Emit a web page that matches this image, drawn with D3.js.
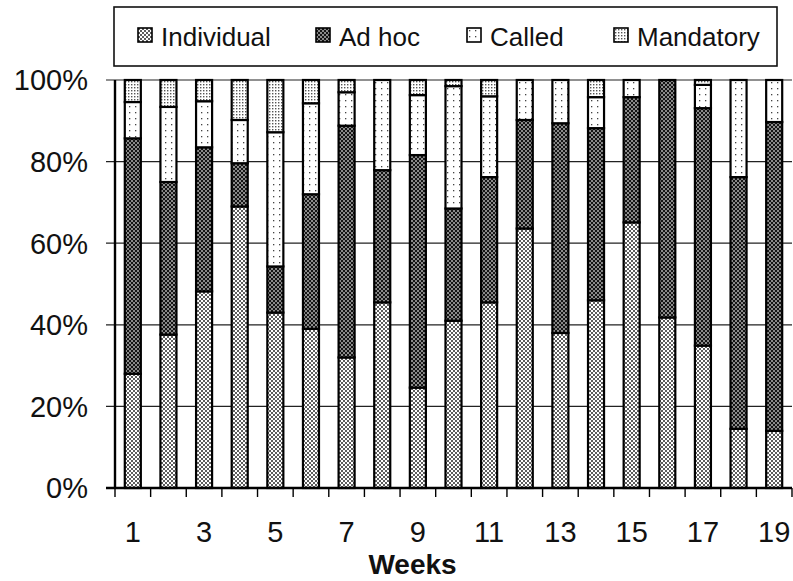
<!DOCTYPE html>
<html>
<head>
<meta charset="utf-8">
<script src="https://cdn.jsdelivr.net/npm/d3@7"></script>
<style>
  html, body { margin: 0; padding: 0; background: #fff; }
  text { font-family: "Liberation Sans", Arial, sans-serif; fill: #111; }
</style>
</head>
<body>
<svg id="chart" width="793" height="581"></svg>
<script>
(function() {
  // data (percent of the week's total)
  var weeks = d3.range(1, 20);
  var seriesNames = ["Individual", "Ad hoc", "Called", "Mandatory"];
  var individual = [28, 37.6, 48.2, 69, 43, 39, 32, 45.5, 24.6, 41, 45.5, 63.6, 38, 46, 65.1, 41.8, 34.9, 14.5, 14];
  var adHoc      = [57.7, 37.4, 35.3, 10.6, 11.3, 33, 56.8, 32.4, 57, 27.5, 30.7, 26.6, 51.4, 42.2, 30.7, 58.2, 58.2, 61.7, 75.7];
  var called     = [8.9, 18.4, 11.3, 10.6, 32.9, 22.3, 8.2, 22.1, 14.7, 30, 19.8, 9.8, 10.6, 7.6, 4.2, 0, 5.7, 23.8, 10.3];
  var mandatory  = [5.4, 6.6, 5.2, 9.8, 12.8, 5.7, 3, 0, 3.7, 1.5, 4, 0, 0, 4.2, 0, 0, 1.2, 0, 0];
  var yTicks = [0, 20, 40, 60, 80, 100];

  var table = weeks.map(function(w, i) {
    return { week: w, "Individual": individual[i], "Ad hoc": adHoc[i], "Called": called[i], "Mandatory": mandatory[i] };
  });

  var svg = d3.select("#chart"),
      margin = { left: 115, right: 1, top: 80, bottom: 93 },
      width = +svg.attr("width") - margin.left - margin.right,
      height = +svg.attr("height") - margin.top - margin.bottom;

  // fill patterns standing in for the printed screens
  var defs = svg.append("defs");
  function pattern(id, size, bg, draw) {
    var p = defs.append("pattern").attr("id", id)
      .attr("patternUnits", "userSpaceOnUse")
      .attr("width", size).attr("height", size);
    p.append("rect").attr("width", size).attr("height", size).attr("fill", bg);
    draw(p);
  }
  pattern("p-indiv", 4, "#fff", function(p) {
    p.append("rect").attr("x", 0).attr("y", 0).attr("width", 2).attr("height", 2).attr("fill", "#5e5e5e");
    p.append("rect").attr("x", 2).attr("y", 2).attr("width", 2).attr("height", 2).attr("fill", "#5e5e5e");
  });
  pattern("p-adhoc", 4, "#151515", function(p) {
    p.append("rect").attr("x", 0).attr("y", 0).attr("width", 2).attr("height", 2).attr("fill", "#8a8a8a");
    p.append("rect").attr("x", 2).attr("y", 2).attr("width", 2).attr("height", 2).attr("fill", "#8a8a8a");
  });
  pattern("p-called", 6, "#fff", function(p) {
    p.append("rect").attr("x", 2).attr("y", 2).attr("width", 1.3).attr("height", 1.3).attr("fill", "#444");
  });
  pattern("p-mand", 3, "#fff", function(p) {
    p.append("rect").attr("x", 1).attr("y", 1).attr("width", 1.4).attr("height", 1.4).attr("fill", "#555");
  });
  var fills = d3.scaleOrdinal().domain(seriesNames)
    .range(["url(#p-indiv)", "url(#p-adhoc)", "url(#p-called)", "url(#p-mand)"]);

  var x = d3.scaleBand().domain(weeks).range([0, width])
      .paddingInner(0.55).paddingOuter(0.275);
  var y = d3.scaleLinear().domain([0, 100]).range([height, 0]);

  var g = svg.append("g").attr("transform", "translate(" + margin.left + "," + margin.top + ")");

  // gridlines
  g.append("g").selectAll("line")
    .data(yTicks.slice(1))
    .enter().append("line")
    .attr("x1", -9).attr("x2", width)
    .attr("y1", function(d) { return y(d); })
    .attr("y2", function(d) { return y(d); })
    .attr("stroke", "#222").attr("stroke-width", 1.2);

  // y labels
  g.append("g").selectAll("text")
    .data(yTicks)
    .enter().append("text")
    .attr("x", -27)
    .attr("y", function(d) { return y(d); })
    .attr("dy", "0.36em")
    .attr("text-anchor", "end")
    .style("font-size", "29px")
    .text(function(d) { return d + "%"; });

  // bars
  var stack = d3.stack().keys(seriesNames);
  var layers = stack(table);

  g.append("g").selectAll("g")
    .data(layers)
    .enter().append("g")
    .attr("fill", function(d) { return fills(d.key); })
    .selectAll("rect")
    .data(function(d) { return d.filter(function(s) { return s[1] - s[0] > 0; }); })
    .enter().append("rect")
    .attr("x", function(d) { return x(d.data.week); })
    .attr("width", x.bandwidth())
    .attr("y", function(d) { return y(d[1]); })
    .attr("height", function(d) { return y(d[0]) - y(d[1]); })
    .attr("stroke", "#000").attr("stroke-width", 2.2);

  // axes
  g.append("line").attr("x1", 0).attr("x2", 0).attr("y1", 0).attr("y2", height)
    .attr("stroke", "#000").attr("stroke-width", 2.4);
  g.append("line").attr("x1", -9).attr("x2", width).attr("y1", height).attr("y2", height)
    .attr("stroke", "#000").attr("stroke-width", 2.4);

  // x ticks at category boundaries
  g.append("g").selectAll("line")
    .data(d3.range(0, weeks.length + 1))
    .enter().append("line")
    .attr("x1", function(i) { return i * x.step(); })
    .attr("x2", function(i) { return i * x.step(); })
    .attr("y1", height).attr("y2", height + 9)
    .attr("stroke", "#000").attr("stroke-width", 1.4);

  g.append("g").selectAll("text")
    .data(weeks.filter(function(w) { return w % 2 === 1; }))
    .enter().append("text")
    .attr("x", function(d) { return x(d) + x.bandwidth() / 2; })
    .attr("y", height + 54)
    .attr("text-anchor", "middle")
    .style("font-size", "29px")
    .text(function(d) { return d; });

  g.append("text")
    .attr("x", width / 2 - 41)
    .attr("y", height + 86)
    .attr("text-anchor", "middle")
    .style("font-size", "28px")
    .style("font-weight", "bold")
    .text("Weeks");

  // legend
  var legend = svg.append("g");
  legend.append("rect")
    .attr("x", 114).attr("y", 7).attr("width", 663).attr("height", 59)
    .attr("fill", "#fff").attr("stroke", "#111").attr("stroke-width", 1.6);

  var legendX = [138, 316, 467, 614];
  var item = legend.selectAll(".item")
    .data(seriesNames)
    .enter().append("g")
    .attr("class", "item")
    .attr("transform", function(d, i) { return "translate(" + legendX[i] + ",28)"; });
  item.append("rect")
    .attr("width", 14).attr("height", 14)
    .attr("fill", function(d) { return fills(d); })
    .attr("stroke", "#000").attr("stroke-width", 1.6);
  item.append("text")
    .attr("x", 23).attr("y", 18)
    .style("font-size", "26px")
    .text(function(d) { return d; });
})();
</script>
</body>
</html>
